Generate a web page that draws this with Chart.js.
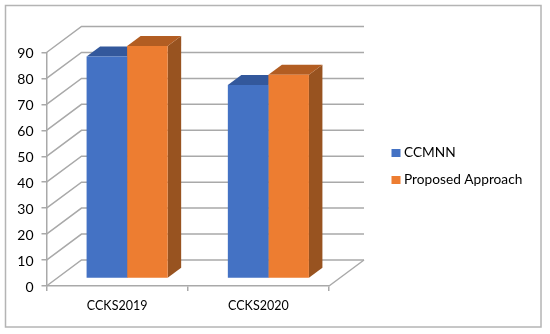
<!DOCTYPE html>
<html>
<head>
<meta charset="utf-8">
<style>
  html, body { margin: 0; padding: 0; background: #fff; }
  #wrap { width: 550px; height: 334px; }
</style>
<script src="https://cdn.jsdelivr.net/npm/chart.js@4"></script>
</head>
<body>
<div id="wrap"><canvas id="barChart" width="550" height="334"></canvas></div>
<script>
var categories = ['CCKS2019', 'CCKS2020'];
var ccmnn = [85.6, 74.6];
var proposed = [89.6, 78.5];

var lineColor = '#a9a9a9';
var textColor = '#000';

// fake 3d: wall depth and bar depth in px
var wallX = 35, wallY = 26;
var barX = 13.5, barY = 10;
var shiftX = 10, shiftY = 7.5;

function poly(ctx, pts, color) {
  ctx.fillStyle = color;
  ctx.beginPath();
  ctx.moveTo(pts[0][0], pts[0][1]);
  for (var i = 1; i < pts.length; i++) ctx.lineTo(pts[i][0], pts[i][1]);
  ctx.closePath();
  ctx.fill();
}

var frame = {
  id: 'frame',
  beforeDraw: function(chart) {
    var ctx = chart.ctx;
    ctx.save();
    ctx.strokeStyle = '#b4b4b4';
    ctx.lineWidth = 1.5;
    ctx.strokeRect(5.5, 5.5, 535.5, 321.5);
    ctx.restore();
  }
};

var walls = {
  id: 'walls',
  beforeDatasetsDraw: function(chart) {
    var ctx = chart.ctx, y = chart.scales.y, a = chart.chartArea;
    ctx.save();
    ctx.strokeStyle = lineColor;
    ctx.lineWidth = 1.5;
    y.ticks.forEach(function(t) {
      var py = y.getPixelForValue(t.value);
      ctx.beginPath();
      ctx.moveTo(a.left, py);
      ctx.lineTo(a.left + wallX, py - wallY);
      ctx.lineTo(a.right + wallX, py - wallY);
      ctx.stroke();
    });
    // floor edge
    ctx.beginPath();
    ctx.moveTo(a.right, a.bottom);
    ctx.lineTo(a.right + wallX, a.bottom - wallY);
    ctx.stroke();
    ctx.restore();
  }
};

var colors3d = [
  { top: '#33589c', side: '#2f5597' },
  { top: '#b25d22', side: '#985320' }
];

var bars3d = {
  id: 'bars3d',
  beforeDatasetsDraw: function(chart) {
    var ctx = chart.ctx;
    ctx.save();
    ctx.translate(shiftX, -shiftY);
    chart.data.datasets.forEach(function(ds, i) {
      chart.getDatasetMeta(i).data.forEach(function(b) {
        var l = b.x - b.width / 2, r = b.x + b.width / 2;
        poly(ctx, [[r, b.y], [r + barX, b.y - barY], [r + barX, b.base - barY], [r, b.base]], colors3d[i].side);
        poly(ctx, [[l, b.y], [l + barX, b.y - barY], [r + barX, b.y - barY], [r, b.y]], colors3d[i].top);
      });
    });
    ctx.restore();
    // front faces get drawn by chart.js in the shifted plane
    ctx.save();
    ctx.translate(shiftX, -shiftY);
  },
  afterDatasetsDraw: function(chart) {
    chart.ctx.restore();
  }
};

// legend sits in the empty right part, drawn by hand so it stays put
var legendRows = [153, 180];
var sideLegend = {
  id: 'sideLegend',
  afterDraw: function(chart) {
    var ctx = chart.ctx;
    ctx.save();
    ctx.font = '13.7px Lato';
    ctx.textBaseline = 'middle';
    chart.data.datasets.forEach(function(ds, i) {
      ctx.fillStyle = ds.backgroundColor;
      ctx.fillRect(391.5, legendRows[i] - 4, 9, 8);
      ctx.fillStyle = textColor;
      ctx.fillText(ds.label, 404, legendRows[i]);
    });
    ctx.restore();
  }
};

var ctx = document.getElementById('barChart').getContext('2d');
var barChart = new Chart(ctx, {
  type: 'bar',
  data: {
    labels: categories,
    datasets: [
      { label: 'CCMNN', data: ccmnn, backgroundColor: '#4472c4', clip: false },
      { label: 'Proposed Approach', data: proposed, backgroundColor: '#ed7d31', clip: false }
    ]
  },
  options: {
    responsive: false,
    animation: false,
    categoryPercentage: 0.574,
    barPercentage: 1,
    layout: { padding: { left: 0, top: 52.5, right: 221, bottom: 0 } },
    plugins: {
      tooltip: { enabled: false },
      legend: { display: false }
    },
    scales: {
      x: {
        afterFit: function(s) { s.height = 48; },
        border: { color: lineColor, width: 1.5 },
        grid: { drawOnChartArea: false, drawTicks: true, tickLength: 5, color: lineColor, lineWidth: 1.5 },
        ticks: { color: textColor, padding: 7, font: { family: 'Lato', size: 12.5 } }
      },
      y: {
        min: 0,
        max: 90,
        afterFit: function(s) { s.width = 46.5; },
        border: { color: lineColor, width: 1.5 },
        grid: { drawOnChartArea: false, drawTicks: true, tickLength: 5, color: lineColor, lineWidth: 1.5 },
        ticks: { stepSize: 10, color: textColor, padding: 8, labelOffset: 1, font: { family: 'Lato', size: 14 } }
      }
    }
  },
  plugins: [frame, walls, bars3d, sideLegend]
});
</script>
</body>
</html>
